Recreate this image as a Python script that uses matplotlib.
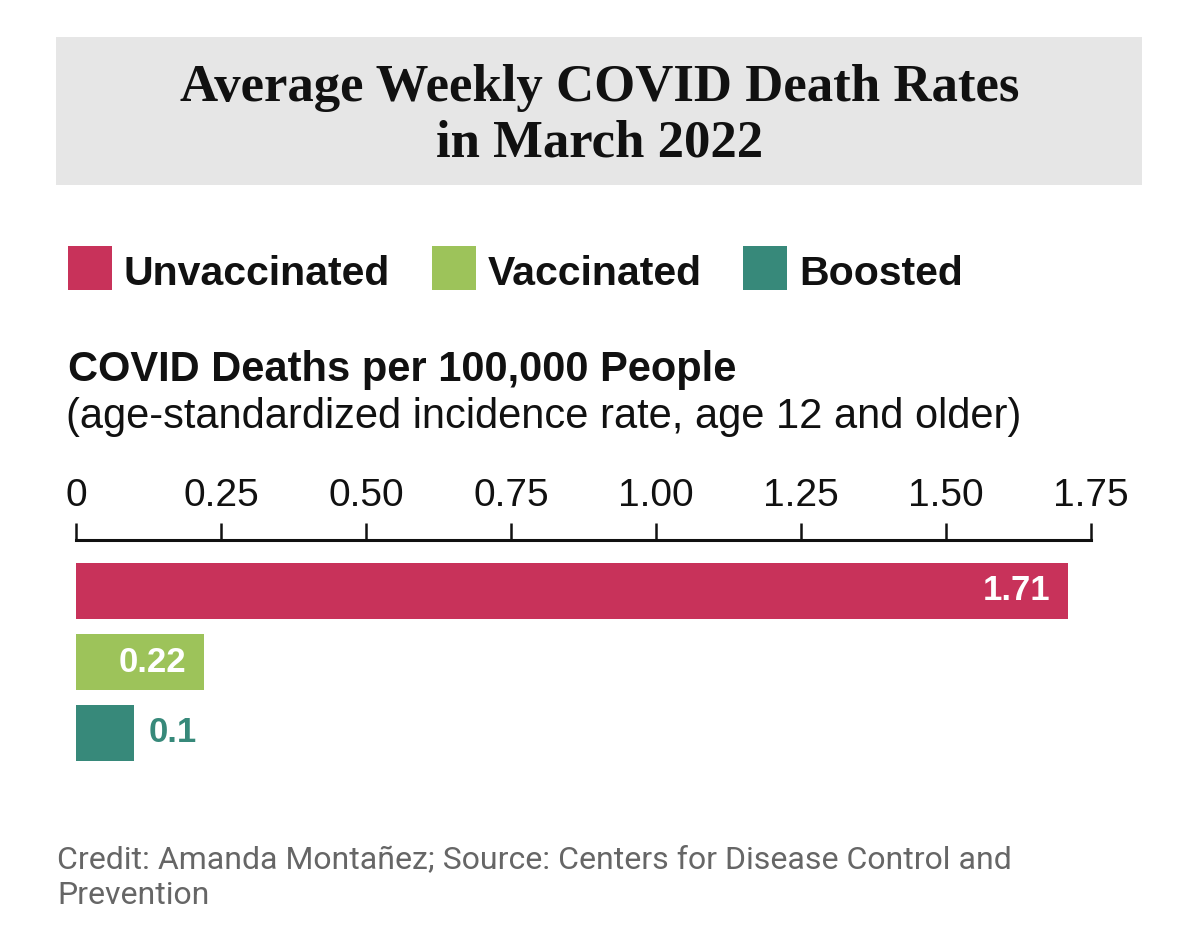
import matplotlib
matplotlib.use("Agg")
import matplotlib.pyplot as plt
from matplotlib.patches import Rectangle

# ---- data ----
categories = ["Unvaccinated", "Vaccinated", "Boosted"]
values = [1.71, 0.22, 0.1]
value_labels = ["1.71", "0.22", "0.1"]
colors = ["#c8325a", "#9dc35a", "#37897a"]
tick_values = [0, 0.25, 0.50, 0.75, 1.00, 1.25, 1.50, 1.75]
tick_labels = ["0", "0.25", "0.50", "0.75", "1.00", "1.25", "1.50", "1.75"]
title_lines = "Average Weekly COVID Death Rates\nin March 2022"
subtitle = "COVID Deaths per 100,000 People"
subtitle2 = "(age-standardized incidence rate, age 12 and older)"
credit = "Credit: Amanda Montañez; Source: Centers for Disease Control and\nPrevention"

W, H = 1200, 951
fig = plt.figure(figsize=(W / 100, H / 100), dpi=100)
fig.patch.set_facecolor("white")

def fx(px):
    return px / W

def fy(py):
    return 1 - py / H

# title box
fig.add_artist(Rectangle((fx(56), fy(185)), fx(1142) - fx(56), fy(37) - fy(185),
                         transform=fig.transFigure, facecolor="#e6e6e6", edgecolor="none"))
fig.text(fx(600), fy(116), title_lines, ha="center", va="center",
         fontsize=38, fontweight="bold", family="Liberation Serif",
         linespacing=1.2, color="#111111")

# legend
leg_x = [68, 432, 743]
for x, c, lab in zip(leg_x, colors, categories):
    fig.add_artist(Rectangle((fx(x), fy(290)), fx(44), fy(246) - fy(290),
                             transform=fig.transFigure, facecolor=c, edgecolor="none"))
    fig.text(fx(x + 56), fy(285), lab, ha="left", va="baseline",
             fontsize=29.5, fontweight="bold", family="Liberation Sans", color="#111111")

fig.text(fx(68), fy(381), subtitle, ha="left", va="baseline",
         fontsize=30, fontweight="bold", family="Liberation Sans", color="#111111")
fig.text(fx(66), fy(428), subtitle2, ha="left", va="baseline",
         fontsize=30, family="Liberation Sans", color="#111111")

# axes
ax_top, ax_bot = 540, 775
ax = fig.add_axes([fx(76), fy(ax_bot), fx(1091) - fx(76), fy(ax_top) - fy(ax_bot)])
ypos = list(range(len(values)))
ax.barh(ypos, values, height=0.79, color=colors)
ax.set_xlim(0, 1.75)
ax.set_ylim(2 + 42 / 71, -51 / 71)
for s in ["left", "right", "bottom"]:
    ax.spines[s].set_visible(False)
ax.spines["top"].set_linewidth(2.2)
ax.spines["top"].set_color("#111111")
ax.xaxis.tick_top()
ax.set_xticks(tick_values)
ax.set_xticklabels(tick_labels, family="Liberation Sans", fontsize=28, color="#111111")
ax.tick_params(axis="x", direction="out", length=12, width=1.8, pad=7, colors="#111111")
ax.set_yticks([])
ax.patch.set_alpha(0)

for i, (v, lab) in enumerate(zip(values, value_labels)):
    if v > 0.15:
        ax.text(v - 0.03, i, lab, ha="right", va="center", color="white",
                fontsize=25, fontweight="bold", family="Liberation Sans")
    else:
        ax.text(v + 0.025, i, lab, ha="left", va="center", color=colors[i],
                fontsize=25, fontweight="bold", family="Liberation Sans")

fig.text(fx(57), fy(904), credit, ha="left", va="baseline", fontsize=23,
         family="Roboto", color="#666666", linespacing=1.3)

fig.savefig("out.png", dpi=100)
